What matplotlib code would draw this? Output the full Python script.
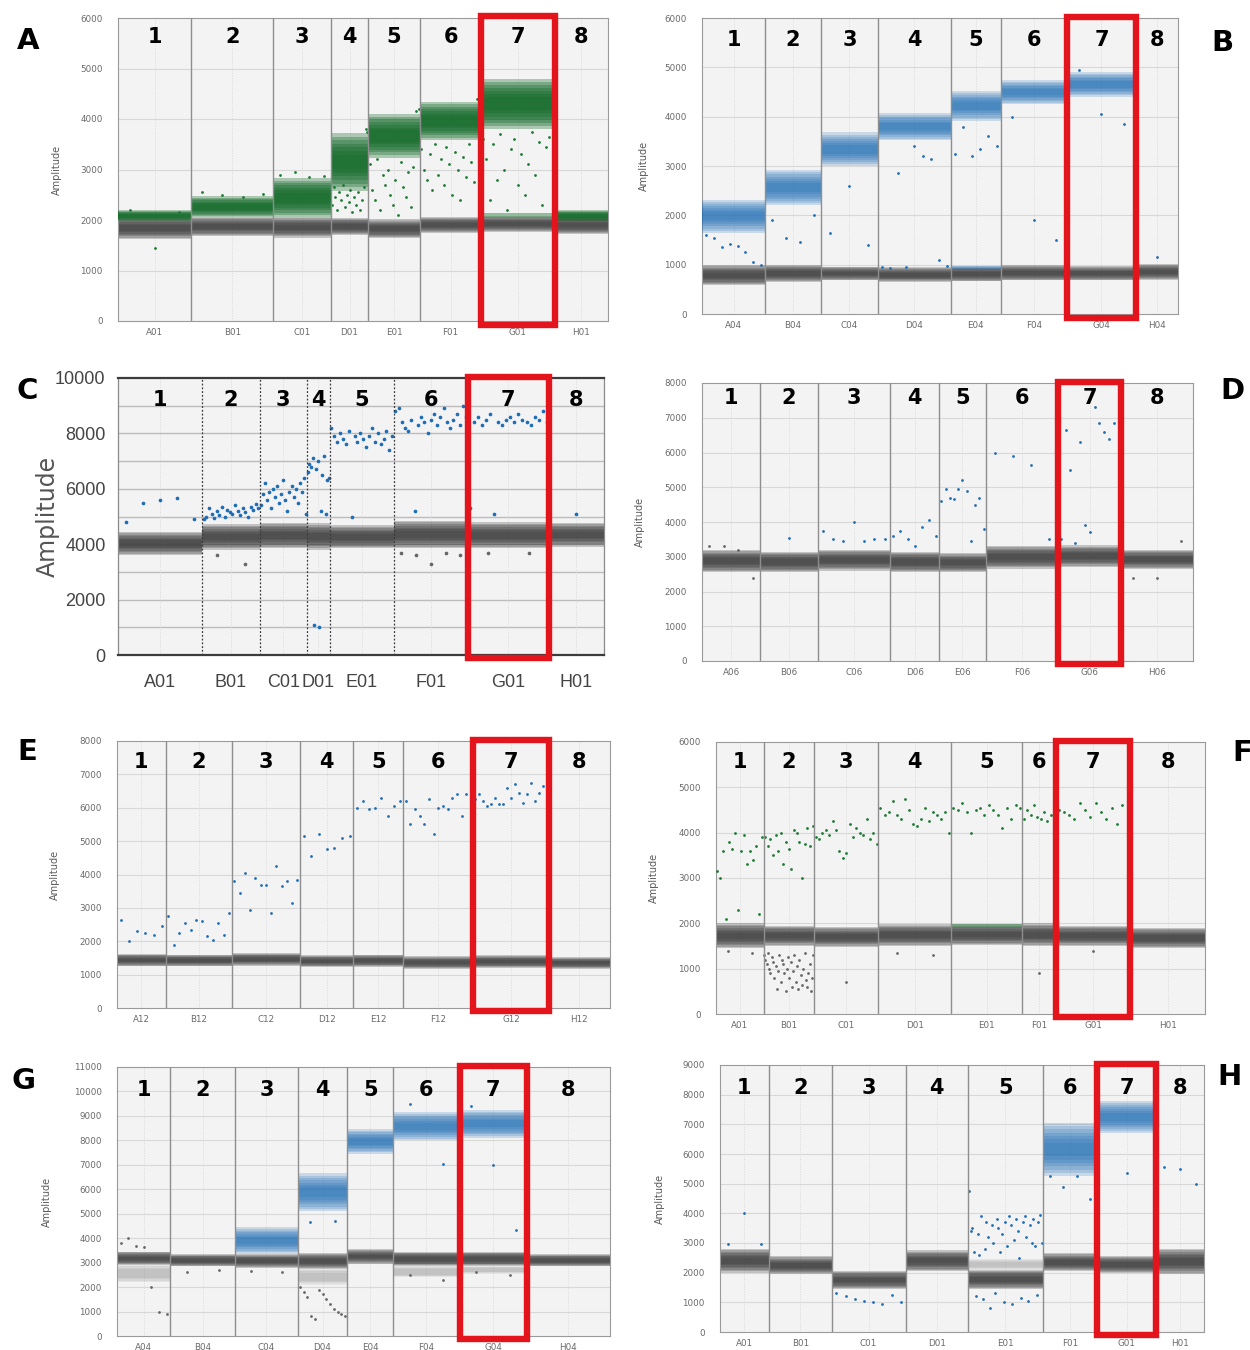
import numpy as np
import matplotlib
matplotlib.use("Agg")
import matplotlib.pyplot as plt
from matplotlib import font_manager
from matplotlib.patches import Rectangle
from matplotlib.transforms import blended_transform_factory

plt.rcParams["font.family"] = ["DejaVu Sans"]

_installed = {f.name for f in font_manager.fontManager.ttflist}
if "Liberation Sans Narrow" in _installed:
    NARROW = {"family": "Liberation Sans Narrow"}
elif "Liberation Sans" in _installed:
    NARROW = {"family": "Liberation Sans"}
else:
    NARROW = {"family": "DejaVu Sans"}

ROWS = ["A", "B", "C", "D", "E", "F", "G", "H"]
WELL_NUMBERS = ["1", "2", "3", "4", "5", "6", "7", "8"]

# ---------------------------------------------------------------- panel A
A_counts = [185, 207, 145, 95, 130, 155, 185, 135]
A_neg = [(1620, 2060), (1680, 2060), (1650, 2060), (1700, 2040),
         (1640, 2010), (1740, 2060), (1760, 2080), (1720, 2080)]
A_pos = [(1980, 2190), (2050, 2470), (2050, 2830), (2580, 3720),
         (3230, 4100), (3580, 4340), (3800, 4800), (1980, 2190)]
A_low = [None, None, None, None, None, None, (2030, 2140), None]
A_drops = [
    [2200, 1450, 2150],
    [2550, 2500, 2450, 2520],
    [2900, 2950, 2850, 2880],
    [2300, 2650, 2450, 2200, 2550, 2400, 2700, 2250, 2500, 2350, 2600,
     2150, 2450, 2300, 2550, 2200, 2400, 2650, 3800, 3750],
    [3100, 2600, 2400, 3200, 2200, 2900, 2700, 3000, 2500, 2300, 2800,
     2100, 3150, 2650, 2450, 2950, 2250, 3050, 4150, 4200],
    [3400, 3000, 2800, 3300, 2600, 3500, 2900, 3200, 2700, 3450, 3100,
     2500, 3350, 3000, 2400, 3250, 2850, 3500, 3150, 2750, 4400, 4350],
    [3600, 3200, 2400, 3500, 2800, 3700, 3000, 2200, 3400, 3600, 2700,
     3300, 2500, 3100, 3750, 2900, 3550, 2300, 3450, 3650, 4850],
    [],
]

# ---------------------------------------------------------------- panel B
B_counts = [157, 138, 142, 181, 124, 165, 170, 105]
B_neg = [(580, 990), (640, 1000), (680, 960), (640, 960),
         (660, 960), (680, 990), (680, 970), (680, 1010)]
B_pos = [(1650, 2320), (2200, 2920), (3000, 3680), (3520, 4070),
         (3920, 4520), (4250, 4740), (4400, 4900), None]
B_low = [None, None, None, None, (890, 980), None, None, None]
B_drops = [
    [1600, 1550, 1350, 1420, 1380, 1250, 1050, 1000],
    [1900, 1550, 1450, 2000],
    [1650, 2600, 1400],
    [960, 940, 2850, 950, 3400, 3200, 3150, 1100, 970],
    [3250, 3800, 3200, 3350, 3600, 3400],
    [4000, 1900, 1500],
    [4950, 4050, 3850],
    [1150],
]

# ---------------------------------------------------------------- panel C
C_counts = [214, 145, 120, 58, 162, 188, 205, 140]
C_neg = [(3600, 4450), (3800, 4720), (3850, 4780), (3800, 4750),
         (3850, 4680), (3850, 4850), (3850, 4800), (3900, 4780)]
C_drops = [
    [4800, 5500, 5600, 5650, 4900],
    [4900, 5000, 5300, 5100, 4950, 5200, 5050, 5350, 5000, 5250, 5150,
     5100, 5400, 5200, 5050, 5300, 5150, 5000, 5350, 5250, 5450, 5300],
    [5400, 5800, 6200, 5600, 5900, 5300, 6000, 5700, 6100, 5500, 5800,
     6300, 5600, 5200, 5900, 6100, 5700, 6000, 5500, 6200, 5900, 6400, 5100],
    [6600, 6900, 6800, 7100, 1100, 6700, 7000, 1000, 5200, 6500, 7200,
     5100, 6300, 6400],
    [8200, 7900, 7700, 8000, 7800, 7600, 8100, 5000, 7900, 7700, 8000,
     7800, 7500, 7900, 8200, 7700, 8000, 7600, 7800, 8100, 7400, 7900],
    [8800, 8900, 8400, 8200, 8100, 8500, 5200, 8300, 8600, 8400, 8000,
     8500, 8700, 8300, 8600, 8900, 8400, 8200, 8500, 8700, 8300, 9000, 8600],
    [5300, 8400, 8600, 8300, 8500, 8700, 5100, 8400, 8300, 8500, 8600,
     8400, 8700, 8500, 8400, 8300, 8600, 8500, 8800, 8400],
    [5100],
]
C_grey = [[], [3600, 3300], [], [], [],
          [3700, 3600, 3300, 3700, 3600], [3700, 3700], []]

# ---------------------------------------------------------------- panel D
D_counts = [144, 142, 179, 122, 115, 180, 155, 178]
D_neg = [(2550, 3200), (2550, 3150), (2600, 3200), (2550, 3150),
         (2550, 3100), (2650, 3320), (2700, 3330), (2650, 3200)]
D_drops = [
    [],
    [3550],
    [3750, 3500, 3450, 4000, 3450, 3500, 3500],
    [3600, 3750, 3500, 3300, 3850, 4050, 3600],
    [4600, 4950, 4700, 4650, 4950, 5200, 4900, 3450, 4500, 4700, 3800],
    [6000, 5900, 5650, 3500],
    [3500, 6650, 5500, 3400, 6300, 3900, 3700, 7300, 6850, 6600, 6400, 6850, 3750],
    [],
]
D_grey = [[3300, 3300, 3200, 2400], [], [], [], [], [], [], [2400, 2400, 3450]]

# ---------------------------------------------------------------- panel E
E_counts = [123, 167, 172, 135, 126, 177, 190, 155]
E_neg = [(1250, 1620), (1250, 1600), (1270, 1650), (1230, 1580),
         (1230, 1600), (1170, 1550), (1200, 1580), (1180, 1520)]
E_drops = [
    [2650, 2000, 2300, 2250, 2200, 2450],
    [2750, 1900, 2250, 2550, 2350, 2650, 2600, 2150, 2050, 2550, 2200, 2850],
    [3800, 3450, 4050, 2950, 3900, 3700, 3700, 2850, 4250, 3650, 3800, 3150, 3850],
    [5150, 4550, 5200, 4750, 4800, 5100, 5150],
    [6000, 6200, 5950, 6000, 6300, 5750, 6050, 6200],
    [6200, 5500, 5950, 5750, 5500, 6250, 5200, 6000, 6050, 5950, 6300,
     6400, 5750, 6400, 6150],
    [6250, 6400, 6200, 6050, 6100, 6300, 6100, 6100, 6600, 6300, 6700,
     6450, 6150, 6400, 6750, 6200, 6450, 6650, 6400],
    [],
]

# ---------------------------------------------------------------- panel F
F_counts = [118, 125, 160, 180, 177, 83, 185, 185]
F_neg = [(1450, 2000), (1500, 1950), (1480, 1920), (1500, 1980),
         (1520, 1980), (1500, 2000), (1500, 1950), (1450, 1900)]
F_low = [None, None, None, None, (1900, 1980), None, None, None]
F_drops = [
    [3150, 3000, 3600, 2100, 3800, 3650, 4000, 2300, 3600, 3950, 3300,
     3600, 3400, 3700, 2200, 3900],
    [3900, 3700, 3850, 3500, 3950, 3600, 4000, 3300, 3800, 3650, 3200,
     4050, 4000, 3800, 3000, 3750, 4100, 3700, 4150],
    [3900, 3850, 4000, 4050, 3950, 4250, 4050, 3600, 3450, 3550, 4200,
     3900, 4100, 4000, 3950, 4300, 3850, 4000, 3750],
    [4550, 4400, 4450, 4700, 4400, 4300, 4750, 4500, 4200, 4150, 4300,
     4550, 4250, 4450, 4400, 4300, 4450, 4000],
    [4550, 4500, 4650, 4450, 4000, 4500, 4550, 4400, 4600, 4500, 4400,
     4100, 4550, 4300, 4600, 4550],
    [4300, 4500, 4400, 4600, 4350, 4300, 4450, 4250, 4400, 4550],
    [4500, 4450, 4400, 4300, 4650, 4500, 4350, 4650, 4450, 4300, 4550,
     4200, 4600, 4000],
    [],
]
F_grey = [
    [1400, 1350],
    [1300, 1200, 1100, 1350, 1000, 900, 1250, 1150, 800, 1050, 550, 950,
     1300, 700, 1200, 1100, 900, 500, 1000, 1250, 800, 1150, 600, 950,
     1300, 700, 1050, 550, 1200, 850, 650, 1000, 1350, 750, 600, 900,
     1100, 500, 800, 1300],
    [700], [1350, 1300], [], [900], [1400], [],
]

# ---------------------------------------------------------------- panel G
G_counts = [135, 163, 159, 124, 117, 167, 170, 210]
G_neg = [(2900, 3450), (2850, 3350), (2800, 3350), (2750, 3400),
         (2950, 3550), (2850, 3450), (2850, 3450), (2850, 3350)]
G_tail = [(2200, 2900), None, None, (2100, 2750), None,
          (2400, 2850), (2550, 2850), None]
G_pos = [None, None, (3350, 4450), (5100, 6650), (7450, 8450),
         (8000, 9150), (8100, 9250), None]
G_drops = [[], [], [], [4650, 4700], [], [9500, 7050], [9400, 7000, 4350], []]
G_grey = [
    [3800, 4000, 3700, 3650, 2000, 1000, 900],
    [2600, 2700],
    [2650, 2600],
    [2000, 1800, 1600, 800, 700, 1900, 1700, 1500, 1300, 1100, 1000, 900, 800],
    [], [2500, 2300], [2600, 2500], [],
]

# ---------------------------------------------------------------- panel H
H_counts = [120, 155, 182, 154, 184, 133, 147, 117]
H_neg = [(2000, 2800), (1950, 2550), (1450, 2050), (2050, 2750),
         (1450, 2100), (2050, 2650), (2000, 2550), (1950, 2800)]
H_tail = [None, None, None, None, (2100, 2450), None, None, None]
H_pos = [None, None, None, None, None, (5250, 7050), (6700, 7800), None]
H_drops = [
    [2950, 4000, 2950],
    [],
    [1300, 1200, 1100, 1050, 1000, 950, 1250, 1000],
    [],
    [4750, 3400, 3500, 2700, 1200, 3300, 2600, 3900, 1100, 2800, 3700,
     3200, 800, 3600, 3000, 1300, 3800, 3500, 2700, 3300, 1000, 3700,
     2900, 3900, 3600, 950, 3100, 3800, 3400, 2500, 1150, 3700, 3900,
     3200, 1050, 3600, 3000, 3800, 2900, 1250, 3700, 3950, 3000],
    [5250, 4900, 5250, 4500],
    [5350],
    [5550, 5500, 5000],
]

# ---------------------------------------------------------------- styling
FIG_W, FIG_H = 1250, 1350
BG = "#f3f3f3"
GRID = "#d8d8d8"
GREY = "#3e3e3e"
GREY_DOT = "#666666"
TAIL = "#8a8a8a"
BLUE = "#1f6db4"
GREEN = "#1c7a33"
GREEN_DARK = "#136a29"
RED = "#e3141c"

fig = plt.figure(figsize=(FIG_W / 100, FIG_H / 100), dpi=100)
fig.patch.set_facecolor("white")


def add_axes_px(x0, x1, y0, y1):
    return fig.add_axes([x0 / FIG_W, 1 - y1 / FIG_H,
                         (x1 - x0) / FIG_W, (y1 - y0) / FIG_H])


def soft_band(ax, x0, x1, lo, hi, color, alpha, z, steps=7, step=0.062):
    """Droplet cluster drawn as stacked translucent layers: dense core, fuzzy rim."""
    h = hi - lo
    for k in range(steps):
        inset = h * step * k
        ax.fill_between([x0, x1], lo + inset, hi - inset, color=color,
                        alpha=alpha, linewidth=0, zorder=z)


def droplets(ax, x0, x1, values, color, size, z):
    n = len(values)
    if n == 0:
        return
    xs = x0 + (np.arange(n) + 0.5) / n * (x1 - x0)
    ax.scatter(xs, values, s=size, color=color, linewidths=0, zorder=z)


def draw_panel(box, counts, column, ymax, neg, letter, letter_xy, ylabel_x,
               pos=None, kind="blue", color=BLUE, low=None, drops=None,
               grey=None, tail=None, big=False, label_y=0.925):
    ax = add_axes_px(*box)
    edges = np.concatenate([[0], np.cumsum(counts)])
    centers = (edges[:-1] + edges[1:]) / 2
    ax.set_xlim(0, edges[-1])
    ax.set_ylim(0, ymax)
    ax.set_facecolor(BG)

    grid_color = "#bcbcbc" if big else GRID
    for g in range(1000, ymax, 1000):
        ax.axhline(g, color=grid_color, lw=1.0 if big else 0.8, zorder=0.5)
    for c in centers:
        ax.axvline(c, color="#d2d2d2", lw=0.6, ls=(0, (1, 2)), zorder=0.6)
    for e in edges[1:-1]:
        if big:
            ax.axvline(e, color="#3a3a3a", lw=0.9, ls=(0, (1.5, 1.5)), zorder=4)
        else:
            ax.axvline(e, color="#8e8e8e", lw=1.0, zorder=4)

    dot_size = 7 if big else 4
    for i in range(len(counts)):
        x0, x1 = edges[i], edges[i + 1]
        if tail is not None and tail[i] is not None:
            soft_band(ax, x0, x1, tail[i][0], tail[i][1], TAIL, 0.14, 1,
                      steps=4, step=0.08)
        soft_band(ax, x0, x1, neg[i][0], neg[i][1], GREY, 0.27, 2)
        if grey is not None and grey[i]:
            droplets(ax, x0, x1, grey[i], GREY_DOT, dot_size, 2.5)
        if pos is not None and pos[i] is not None:
            if kind == "green":
                soft_band(ax, x0, x1, pos[i][0], pos[i][1], GREEN_DARK, 0.32, 3)
            else:
                soft_band(ax, x0, x1, pos[i][0], pos[i][1], BLUE, 0.2, 3)
        if low is not None and low[i] is not None:
            ax.fill_between([x0, x1], low[i][0], low[i][1], color=color,
                            alpha=0.45, linewidth=0, zorder=3)
        if drops is not None and drops[i]:
            droplets(ax, x0, x1, drops[i], color, dot_size, 3.5)

    tr = blended_transform_factory(ax.transData, ax.transAxes)
    for i, c in enumerate(centers):
        ax.text(c, label_y, WELL_NUMBERS[i], transform=tr, ha="center",
                va="center", fontsize=15, fontweight="heavy", color="black",
                zorder=8)

    ax.add_patch(Rectangle((edges[6], -0.012), edges[7] - edges[6], 1.017,
                           transform=tr, fill=False, edgecolor=RED,
                           linewidth=4.6, clip_on=False, zorder=10))

    names = [r + column for r in ROWS]
    ax.set_xticks(centers)
    if big:
        ax.set_yticks(range(0, ymax + 1, 2000))
        ax.set_yticklabels([str(v) for v in range(0, ymax + 1, 2000)],
                           fontsize=13, color="#444444", **NARROW)
        ax.set_xticklabels(names, fontsize=13, color="#444444", **NARROW)
        ax.tick_params(axis="y", length=0, pad=9)
        ax.tick_params(axis="x", length=0, pad=14)
        ax.set_ylabel("Amplitude", fontsize=17, color="#555555")
        for side, sp in ax.spines.items():
            sp.set_color("#3c3c3c" if side in ("top", "bottom") else "#8a8a8a")
            sp.set_linewidth(1.6 if side in ("top", "bottom") else 0.9)
    else:
        ax.set_yticks(range(0, ymax + 1, 1000))
        ax.set_yticklabels([str(v) for v in range(0, ymax + 1, 1000)],
                           fontsize=6.3, color="#6a6a6a")
        ax.set_xticklabels(names, fontsize=6.3, color="#6a6a6a")
        ax.tick_params(axis="y", length=0, pad=11)
        ax.tick_params(axis="x", length=0, pad=5)
        ax.set_ylabel("Amplitude", fontsize=7, color="#5a5a5a")
        for sp in ax.spines.values():
            sp.set_color("#9a9a9a")
            sp.set_linewidth(0.8)
    x0_px, x1_px = box[0], box[1]
    ax.yaxis.set_label_coords((ylabel_x - x0_px) / (x1_px - x0_px), 0.5)

    fig.text(letter_xy[0] / FIG_W, 1 - letter_xy[1] / FIG_H, letter,
             fontsize=21, fontweight="heavy", ha="center", va="center")
    return ax


draw_panel((118, 608, 18, 321), A_counts, "01", 6000, A_neg, "A", (28, 41), 62,
           pos=A_pos, kind="green", color=GREEN, low=A_low, drops=A_drops,
           label_y=0.937)
draw_panel((702, 1178, 18, 314), B_counts, "04", 6000, B_neg, "B", (1222, 43), 649,
           pos=B_pos, low=B_low, drops=B_drops, label_y=0.926)
draw_panel((118, 604, 378, 655), C_counts, "01", 10000, C_neg, "C", (27, 391), 60,
           drops=C_drops, grey=C_grey, big=True, label_y=0.92)
draw_panel((702, 1193, 383, 661), D_counts, "06", 8000, D_neg, "D", (1232, 391), 645,
           drops=D_drops, grey=D_grey, label_y=0.946)
draw_panel((117, 610, 741, 1008), E_counts, "12", 8000, E_neg, "E", (27, 752), 60,
           drops=E_drops, label_y=0.921)
draw_panel((716, 1205, 742, 1014), F_counts, "01", 6000, F_neg, "F", (1242, 753), 659,
           color=GREEN, low=F_low, drops=F_drops, grey=F_grey, label_y=0.926)
draw_panel((117, 610, 1067, 1336), G_counts, "04", 11000, G_neg, "G", (24, 1081), 52,
           pos=G_pos, drops=G_drops, grey=G_grey, tail=G_tail, label_y=0.915)
draw_panel((720, 1204, 1065, 1332), H_counts, "01", 9000, H_neg, "H", (1230, 1077), 665,
           pos=H_pos, drops=H_drops, tail=H_tail, label_y=0.914)

fig.savefig("out.png", dpi=100, facecolor="white")
